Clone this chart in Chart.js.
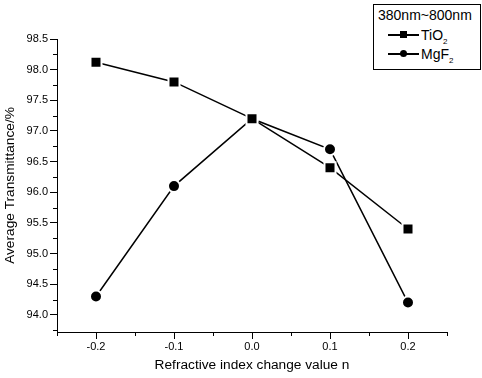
<!DOCTYPE html>
<html>
<head>
<meta charset="utf-8">
<script src="https://cdn.jsdelivr.net/npm/chart.js@4.4.1/dist/chart.umd.min.js"></script>
<style>
  body { margin: 0; background: #fff; }
  #wrap { position: relative; width: 482px; height: 378px; }
  #legend {
    position: absolute; left: 373px; top: 4px; width: 106px; height: 64px;
    border: 1px solid #000; font-family: "Liberation Sans", Arial, sans-serif;
    font-size: 14px; color: #000; background: #fff;
  }
  #legend .head { position: absolute; left: 4px; top: 2px; white-space: nowrap; }
  #legend .row { position: absolute; left: 14px; height: 16px; }
  #legend .ln { position: absolute; left: 0; top: 7px; width: 31px; height: 1.5px; background: #000; }
  #legend .mk { position: absolute; background: #000; }
  #legend .lbl { position: absolute; left: 33px; top: 0; white-space: nowrap; line-height: 16px; }
  #legend sub { font-size: 8px; vertical-align: -4px; }
</style>
</head>
<body>
<div id="wrap">
  <canvas id="chart" width="482" height="378"></canvas>
  <div id="legend">
    <div class="head">380nm~800nm</div>
    <div class="row" style="top:22px">
      <div class="ln"></div>
      <div class="mk" style="left:12px;top:4px;width:7px;height:7px"></div>
      <div class="lbl">TiO<sub>2</sub></div>
    </div>
    <div class="row" style="top:41px">
      <div class="ln"></div>
      <div class="mk" style="left:12px;top:4px;width:7px;height:7px;border-radius:50%"></div>
      <div class="lbl">MgF<sub>2</sub></div>
    </div>
  </div>
</div>
<script>
const nValues = [-0.2, -0.1, 0.0, 0.1, 0.2];
const tio2 = [98.12, 97.8, 97.2, 96.4, 95.4];
const mgf2 = [94.3, 96.1, 97.2, 96.7, 94.2];
const xTicks = [-0.2, -0.1, 0.0, 0.1, 0.2];
const yTicks = [94.0, 94.5, 95.0, 95.5, 96.0, 96.5, 97.0, 97.5, 98.0, 98.5];

const font = "'Liberation Sans', Arial, sans-serif";

function pts(ys) {
  return nValues.map((x, i) => ({ x: x, y: ys[i] }));
}

// short minor ticks between the labelled ones
const minorTicks = {
  id: "minorTicks",
  afterDraw(chart) {
    const ctx = chart.ctx;
    const xs = chart.scales.x, ys = chart.scales.y;
    const area = chart.chartArea;
    ctx.save();
    ctx.strokeStyle = "#000";
    ctx.lineWidth = 1;
    ctx.beginPath();
    for (let v = xs.min; v <= xs.max + 1e-9; v += 0.1) {
      const px = Math.round(xs.getPixelForValue(v)) + 0.5;
      ctx.moveTo(px, area.bottom);
      ctx.lineTo(px, area.bottom + 4);
    }
    for (let v = 93.75; v <= ys.max; v += 0.5) {
      const py = Math.round(ys.getPixelForValue(v)) + 0.5;
      ctx.moveTo(area.left, py);
      ctx.lineTo(area.left - 4, py);
    }
    ctx.stroke();
    ctx.restore();
  }
};

const config = {
  type: "scatter",
  data: {
    datasets: [
      {
        label: "TiO2",
        data: pts(tio2),
        showLine: true,
        borderColor: "#000",
        borderWidth: 1.5,
        backgroundColor: "#000",
        pointStyle: "rect",
        pointRadius: 7.8,
        pointBorderColor: "#fff",
        pointBorderWidth: 2,
      },
      {
        label: "MgF2",
        data: pts(mgf2),
        showLine: true,
        borderColor: "#000",
        borderWidth: 1.5,
        backgroundColor: "#000",
        pointStyle: "circle",
        pointRadius: 6,
        pointBorderColor: "#fff",
        pointBorderWidth: 2,
      },
    ],
  },
  options: {
    responsive: false,
    animation: false,
    layout: { padding: { top: 39, right: 35, left: 0, bottom: 0 } },
    plugins: { legend: { display: false }, tooltip: { enabled: false } },
    scales: {
      x: {
        type: "linear",
        min: -0.25,
        max: 0.25,
        afterBuildTicks: (s) => { s.ticks = xTicks.map((v) => ({ value: v })); },
        afterFit: (s) => { s.height = 46; },
        grid: { drawOnChartArea: false, color: "#000", tickLength: 7 },
        border: { color: "#000", width: 1 },
        ticks: {
          color: "#000",
          padding: 1,
          font: { family: font, size: 11 },
          callback: (v) => Number(v).toFixed(1),
        },
        title: {
          display: true,
          text: "Refractive index change value n",
          color: "#000",
          font: { family: font, size: 13.7 },
          padding: { top: 0, bottom: 5 },
        },
      },
      y: {
        min: 93.72,
        max: 98.5,
        afterBuildTicks: (s) => { s.ticks = yTicks.map((v) => ({ value: v })); },
        afterFit: (s) => { s.width = 57; },
        grid: { drawOnChartArea: false, color: "#000", tickLength: 7 },
        border: { color: "#000", width: 1 },
        ticks: {
          color: "#000",
          padding: 2,
          font: { family: font, size: 11 },
          callback: (v) => Number(v).toFixed(1),
        },
        title: {
          display: true,
          text: "Average Transmittance/%",
          color: "#000",
          font: { family: font, size: 13.7 },
          padding: { top: 2, bottom: 0 },
        },
      },
    },
  },
  plugins: [minorTicks],
};

var ctx = document.getElementById("chart").getContext("2d");
var myChart = new Chart(ctx, config);
</script>
</body>
</html>
